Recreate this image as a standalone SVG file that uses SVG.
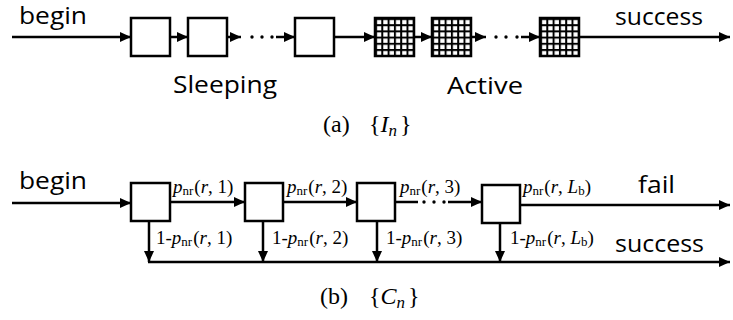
<svg xmlns="http://www.w3.org/2000/svg" xmlns:xlink="http://www.w3.org/1999/xlink" width="733" height="320" viewBox="0 0 733 320">
<style>
.ln{stroke:#000;stroke-width:2.5;fill:none}
.arr{stroke:#000;stroke-width:2.5;fill:none;marker-end:url(#ah)}
.box{stroke:#000;stroke-width:2.5;fill:#fff}
.lbl{font-family:"Open Sans","Liberation Sans",sans-serif;font-size:24px;fill:#000}
.m{font-family:"Liberation Serif","DejaVu Serif",serif;font-size:19px;fill:#000}
.cap{font-family:"Liberation Serif","DejaVu Serif",serif;font-size:24px;fill:#000}
.it{font-style:italic}
.dot{fill:#000}
</style>
<defs>
<marker id="ah" markerUnits="userSpaceOnUse" markerWidth="12" markerHeight="12" viewBox="0 0 12 12" refX="11" refY="6" orient="auto">
<path d="M0,1 L11,6 L0,11 Z" fill="#000"/>
</marker>
<pattern id="cells" patternUnits="userSpaceOnUse" x="0" y="0" width="6.3" height="6.2">
<rect x="0" y="0" width="6.3" height="6.2" fill="#000"/>
<rect x="2" y="2" width="4.3" height="4.2" fill="#fff"/>
</pattern>
<g id="grid">
<rect x="0" y="0" width="39" height="38" fill="url(#cells)"/>
<rect x="0" y="0" width="39" height="38" fill="none" stroke="#000" stroke-width="2.5"/>
</g>
</defs>

<!-- (a) connectors -->
<g id="connectors-a">
<line class="arr" x1="12" y1="37" x2="131" y2="37"/>
<line class="arr" x1="170" y1="37" x2="188" y2="37"/>
<line class="arr" x1="227" y1="37" x2="241" y2="37"/>
<circle class="dot" cx="252" cy="37" r="1.7"/>
<circle class="dot" cx="262" cy="37" r="1.7"/>
<circle class="dot" cx="272" cy="37" r="1.7"/>
<line class="arr" x1="276" y1="37" x2="295" y2="37"/>
<line class="arr" x1="334" y1="37" x2="375" y2="37"/>
<line class="arr" x1="414" y1="37" x2="432" y2="37"/>
<line class="arr" x1="472" y1="37" x2="486" y2="37"/>
<circle class="dot" cx="496" cy="37" r="1.7"/>
<circle class="dot" cx="506" cy="37" r="1.7"/>
<circle class="dot" cx="517" cy="37" r="1.7"/>
<line class="arr" x1="521" y1="37" x2="540" y2="37"/>
<line class="arr" x1="579" y1="37" x2="730" y2="37"/>
</g>

<g id="a-s1"><rect class="box" x="131" y="18" width="39" height="38"/></g>
<g id="a-s2"><rect class="box" x="188" y="18" width="39" height="38"/></g>
<g id="a-s3"><rect class="box" x="295" y="18" width="39" height="38"/></g>
<g id="a-a1"><use xlink:href="#grid" x="375" y="18"/></g>
<g id="a-a2"><use xlink:href="#grid" x="432" y="18"/></g>
<g id="a-a3"><use xlink:href="#grid" x="540" y="18"/></g>

<g id="a-labels">
<text class="lbl" x="19" y="24" textLength="68" lengthAdjust="spacingAndGlyphs">begin</text>
<text class="lbl" x="615" y="25" textLength="88" lengthAdjust="spacingAndGlyphs">success</text>
<text class="lbl" x="173" y="93" textLength="104" lengthAdjust="spacingAndGlyphs">Sleeping</text>
<text class="lbl" x="447" y="94" textLength="76" lengthAdjust="spacingAndGlyphs">Active</text>
<text class="cap" x="323" y="132">(a)</text>
<text class="cap" x="369" y="132">{<tspan class="it">I</tspan><tspan class="it" font-size="17" dy="4">n</tspan><tspan dy="-4" dx="3">}</tspan></text>
</g>

<!-- (b) connectors -->
<g id="connectors-b">
<line class="arr" x1="12" y1="203" x2="131" y2="203"/>
<line class="arr" x1="170" y1="202" x2="245" y2="202"/>
<line class="arr" x1="283" y1="202" x2="357" y2="202"/>
<line class="ln" x1="395" y1="202" x2="418" y2="202"/>
<circle class="dot" cx="424" cy="202" r="1.7"/>
<circle class="dot" cx="434" cy="202" r="1.7"/>
<circle class="dot" cx="444" cy="202" r="1.7"/>
<line class="arr" x1="448" y1="202" x2="482" y2="202"/>
<line class="arr" x1="520" y1="205" x2="730" y2="205"/>
<line class="arr" x1="149" y1="221" x2="149" y2="262"/>
<line class="arr" x1="263" y1="221" x2="263" y2="262"/>
<line class="arr" x1="377" y1="221" x2="377" y2="262"/>
<line class="arr" x1="500" y1="223" x2="500" y2="262"/>
<line class="arr" x1="148" y1="262" x2="730" y2="262"/>
</g>

<g id="b-n1"><rect class="box" x="131" y="183" width="39" height="38"/></g>
<g id="b-n2"><rect class="box" x="245" y="183" width="38" height="38"/></g>
<g id="b-n3"><rect class="box" x="357" y="183" width="38" height="38"/></g>
<g id="b-n4"><rect class="box" x="482" y="185" width="38" height="38"/></g>

<g id="b-labels">
<text class="lbl" x="19" y="189" textLength="68" lengthAdjust="spacingAndGlyphs">begin</text>
<text class="lbl" x="638" y="193" textLength="37" lengthAdjust="spacingAndGlyphs">fail</text>
<text class="lbl" x="615" y="252" textLength="89" lengthAdjust="spacingAndGlyphs">success</text>
<text class="m" x="173" y="193"><tspan class="it">p</tspan><tspan font-size="13" dy="2">nr</tspan><tspan dy="-2" dx="1">(</tspan><tspan class="it">r</tspan>, 1)</text>
<text class="m" x="287" y="193"><tspan class="it">p</tspan><tspan font-size="13" dy="2">nr</tspan><tspan dy="-2" dx="1">(</tspan><tspan class="it">r</tspan>, 2)</text>
<text class="m" x="400" y="193"><tspan class="it">p</tspan><tspan font-size="13" dy="2">nr</tspan><tspan dy="-2" dx="1">(</tspan><tspan class="it">r</tspan>, 3)</text>
<text class="m" x="523" y="193"><tspan class="it">p</tspan><tspan font-size="13" dy="2">nr</tspan><tspan dy="-2" dx="1">(</tspan><tspan class="it">r</tspan>, <tspan class="it">L</tspan><tspan font-size="13" dy="2">b</tspan><tspan dy="-2">)</tspan></text>
<text class="m" x="156" y="244">1-<tspan class="it">p</tspan><tspan font-size="13" dy="2">nr</tspan><tspan dy="-2" dx="1">(</tspan><tspan class="it">r</tspan>, 1)</text>
<text class="m" x="272" y="244">1-<tspan class="it">p</tspan><tspan font-size="13" dy="2">nr</tspan><tspan dy="-2" dx="1">(</tspan><tspan class="it">r</tspan>, 2)</text>
<text class="m" x="386" y="244">1-<tspan class="it">p</tspan><tspan font-size="13" dy="2">nr</tspan><tspan dy="-2" dx="1">(</tspan><tspan class="it">r</tspan>, 3)</text>
<text class="m" x="510" y="244">1-<tspan class="it">p</tspan><tspan font-size="13" dy="2">nr</tspan><tspan dy="-2" dx="1">(</tspan><tspan class="it">r</tspan>, <tspan class="it">L</tspan><tspan font-size="13" dy="2">b</tspan><tspan dy="-2">)</tspan></text>
<text class="cap" x="320" y="304">(b)</text>
<text class="cap" x="369" y="304">{<tspan class="it">C</tspan><tspan class="it" font-size="17" dy="4">n</tspan><tspan dy="-4" dx="3">}</tspan></text>
</g>
</svg>
